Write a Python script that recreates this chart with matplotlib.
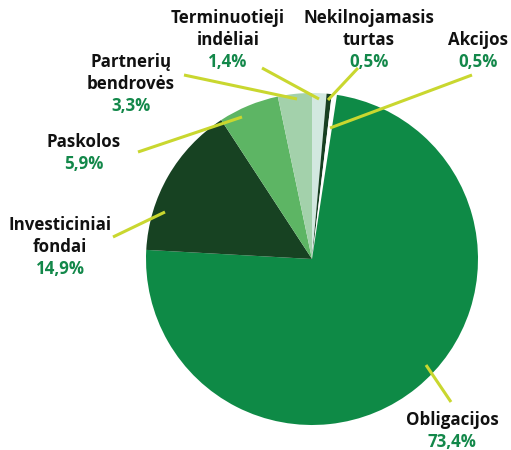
import matplotlib
matplotlib.use("Agg")
import matplotlib.pyplot as plt

# ---- data (clockwise from the top) ----
categories = ["Terminuotieji\nindėliai", "Nekilnojamasis\nturtas", "Akcijos",
              "Obligacijos", "Investiciniai\nfondai", "Paskolos", "Partnerių\nbendrovės"]
values = [1.4, 0.5, 0.5, 73.4, 14.9, 5.9, 3.3]
pct_labels = ["1,4%", "0,5%", "0,5%", "73,4%", "14,9%", "5,9%", "3,3%"]
colors = ["#D2E8E0", "#173F21", "#FFFFFF", "#0E8A46", "#174222", "#5DB564", "#A3D1AB"]

# ---- layout (pixel positions in the 511x450 canvas) ----
W, H = 511, 450
CX, CY, R = 312, 259, 166
# label centre x, y of first line
label_pos = [(228, 18), (369, 18), (478, 40), (452, 420), (60, 225), (84, 142), (131, 62)]
# leader lines: (outer x, outer y, inner x, inner y)
leaders = [(262, 68, 319, 99), (358, 68, 328, 100), (472, 75, 330, 128),
           (426, 365, 451, 402), (113, 237, 165, 212), (138, 152, 242, 117),
           (184, 75, 297, 99)]
LINE_STEP = 22

def px(x, y):
    return (x - CX) / R, (CY - y) / R

plt.rcParams['font.family'] = ['Open Sans', 'DejaVu Sans']

fig = plt.figure(figsize=(W / 100, H / 100), dpi=100)
ax = fig.add_axes([0, 0, 1, 1])
ax.axis('off')

ax.pie(values, colors=colors, startangle=90, counterclock=False, radius=1,
       center=(0, 0), wedgeprops=dict(linewidth=0), frame=False)
ax.set_xlim(-CX / R, (W - CX) / R)
ax.set_ylim(-(H - CY) / R, CY / R)
ax.set_aspect('auto')

line_color = "#C9D72F"
for (x1, y1, x2, y2) in leaders:
    a = px(x1, y1)
    b = px(x2, y2)
    ax.plot([a[0], b[0]], [a[1], b[1]], color=line_color, lw=2.2, solid_capstyle='butt', zorder=5)

fs = 12.2
for cat, pct, (lx, ly) in zip(categories, pct_labels, label_pos):
    lines = cat.split("\n")
    for i, ln in enumerate(lines):
        x, y = px(lx, ly + i * LINE_STEP)
        ax.text(x, y, ln, ha='center', va='center', fontsize=fs, fontweight='bold', color='#111111')
    x, y = px(lx, ly + len(lines) * LINE_STEP)
    ax.text(x, y, pct, ha='center', va='center', fontsize=fs, fontweight='bold', color='#13884A')

fig.savefig("out.png", dpi=100)
